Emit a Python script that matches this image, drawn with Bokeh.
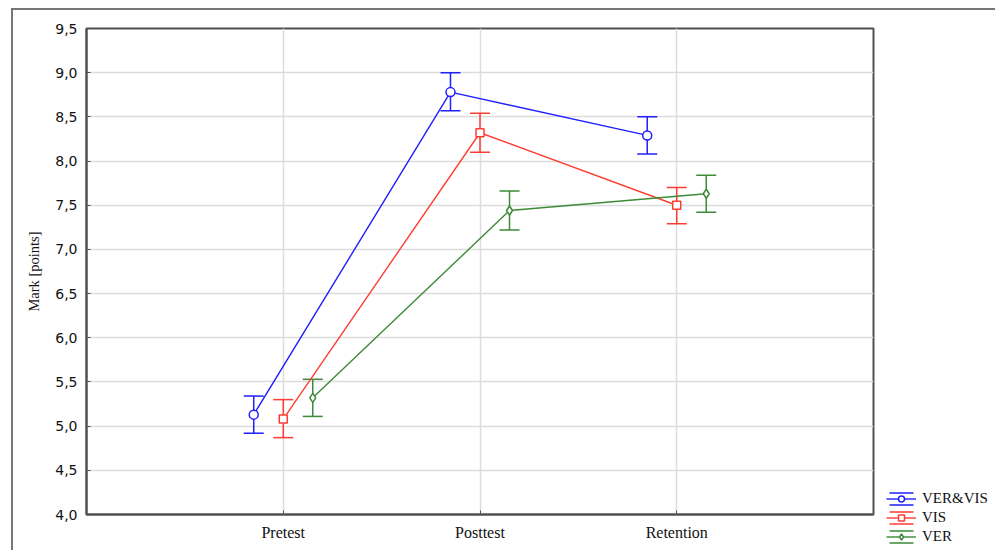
from bokeh.plotting import figure
from bokeh.layouts import row, column
from bokeh.models import (ColumnDataSource, Whisker, TeeHead, FixedTicker, Legend, LegendItem,
                          CustomJSTickFormatter, Range1d)
from bokeh.embed import file_html
from bokeh.resources import INLINE

# ---- data ----
phases = ["Pretest", "Posttest", "Retention"]
groups = ["VER&VIS", "VIS", "VER"]

vervis_mean = [5.13, 8.78, 8.29]
vervis_low = [4.92, 8.57, 8.08]
vervis_high = [5.34, 9.00, 8.50]

vis_mean = [5.08, 8.32, 7.50]
vis_low = [4.87, 8.10, 7.29]
vis_high = [5.30, 8.54, 7.70]

ver_mean = [5.32, 7.44, 7.63]
ver_low = [5.11, 7.22, 7.42]
ver_high = [5.53, 7.66, 7.84]

y_ticks = [4.0, 4.5, 5.0, 5.5, 6.0, 6.5, 7.0, 7.5, 8.0, 8.5, 9.0, 9.5]

series = {
    "VER&VIS": (vervis_mean, vervis_low, vervis_high),
    "VIS": (vis_mean, vis_low, vis_high),
    "VER": (ver_mean, ver_low, ver_high),
}

# ---- styles ----
colors = {"VER&VIS": "#1f1fff", "VIS": "#ff3d33", "VER": "#3d8a37"}
markers = {"VER&VIS": "circle", "VIS": "square", "VER": "diamond"}
msize = {"VER&VIS": 9, "VIS": 8, "VER": 9}
offsets = {"VER&VIS": -0.15, "VIS": 0.0, "VER": 0.15}
frame_col = "#505050"

p = figure(width=883, height=550, output_backend="svg", toolbar_location=None,
           x_range=Range1d(0, 4), y_range=Range1d(4.0, 9.5),
           min_border_left=86, min_border_right=10, min_border_top=28, min_border_bottom=36)
p.background_fill_color = "white"
p.border_fill_color = None
p.outline_line_color = frame_col
p.outline_line_width = 2

# axes
p.xaxis.ticker = FixedTicker(ticks=[1, 2, 3])
p.xaxis.major_label_overrides = {i + 1: ph for i, ph in enumerate(phases)}
p.xaxis.major_label_text_font = "Liberation Serif"
p.xaxis.major_label_text_font_size = "16px"
p.xaxis.major_label_text_color = "#111111"
p.xaxis.major_label_standoff = 9

p.yaxis.ticker = FixedTicker(ticks=y_ticks)
p.yaxis.formatter = CustomJSTickFormatter(code="return tick.toFixed(1).replace('.', ',');")
p.yaxis.major_label_text_font = "DejaVu Sans"
p.yaxis.major_label_text_font_size = "14px"
p.yaxis.major_label_text_color = "#111111"
p.yaxis.major_label_standoff = 9
p.yaxis.axis_label = "Mark [points]"
p.yaxis.axis_label_text_font = "Liberation Serif"
p.yaxis.axis_label_text_font_size = "14.5px"
p.yaxis.axis_label_text_font_style = "normal"
p.yaxis.axis_label_text_color = "#111111"
p.yaxis.axis_label_standoff = 10

for ax in (p.xaxis[0], p.yaxis[0]):
    ax.axis_line_color = frame_col
    ax.axis_line_width = 2
    ax.major_tick_in = 4
    ax.major_tick_out = 0
    ax.major_tick_line_color = frame_col
    ax.minor_tick_line_color = None

# grids
p.xgrid.ticker = FixedTicker(ticks=[1, 2, 3])
p.ygrid.ticker = FixedTicker(ticks=y_ticks)
for g in (p.xgrid[0], p.ygrid[0]):
    g.grid_line_color = "#dcdcdc"
    g.grid_line_width = 1.5

# legend panel: a separate, axis-less figure to the right of the plot
lg = figure(width=112, height=550, output_backend="svg", toolbar_location=None,
            x_range=Range1d(0, 1), y_range=Range1d(20, 21),
            x_axis_type=None, y_axis_type=None, min_border=0)
lg.grid.visible = False
lg.outline_line_color = None
lg.background_fill_color = None
lg.border_fill_color = None

items = []
for g in groups:
    mean, low, high = series[g]
    xs = [i + 1 + offsets[g] for i in range(len(phases))]
    src = ColumnDataSource(dict(x=xs, y=mean, lo=low, hi=high))
    c = colors[g]
    w = Whisker(base="x", lower="lo", upper="hi", source=src, line_color=c, line_width=1.5,
                upper_head=TeeHead(size=20, line_color=c, line_width=1.5),
                lower_head=TeeHead(size=20, line_color=c, line_width=1.5))
    p.add_layout(w)
    p.line("x", "y", source=src, line_color=c, line_width=1.4)
    p.scatter("x", "y", source=src, marker=markers[g], size=msize[g],
              line_color=c, line_width=1.5, fill_color="white")

    # legend proxies (same data, outside the legend figure's ranges, so only the legend shows)
    cap = lg.quad(left="x", right="x", top="hi", bottom="lo", source=src, fill_color=None,
                  line_color=c, line_width=1.5, line_dash="24 12")
    lr = lg.line("x", "y", source=src, line_color=c, line_width=1.4)
    sr = lg.scatter("x", "y", source=src, marker=markers[g], size=msize[g],
                    line_color=c, line_width=1.5, fill_color="white")
    items.append(LegendItem(label=g, renderers=[cap, lr, sr]))

legend = Legend(items=items, location=(3, 5), padding=0, margin=0, spacing=2,
                glyph_width=30, glyph_height=15, label_height=15, label_standoff=6,
                border_line_alpha=0, background_fill_alpha=0,
                label_text_font="Liberation Serif", label_text_font_size="15px",
                label_text_color="#111111")
lg.add_layout(legend)

layout = row(p, column(lg, spacing=0), spacing=0)
# outer frame of the original picture (left and top edges)
layout.styles = {
    "background": ("linear-gradient(#777777, #777777) 11px 8px / 2px 542px no-repeat, "
                   "linear-gradient(#777777, #777777) 11px 8px / 984px 2px no-repeat, white"),
}

open("out.html", "w").write(file_html(layout, INLINE))
